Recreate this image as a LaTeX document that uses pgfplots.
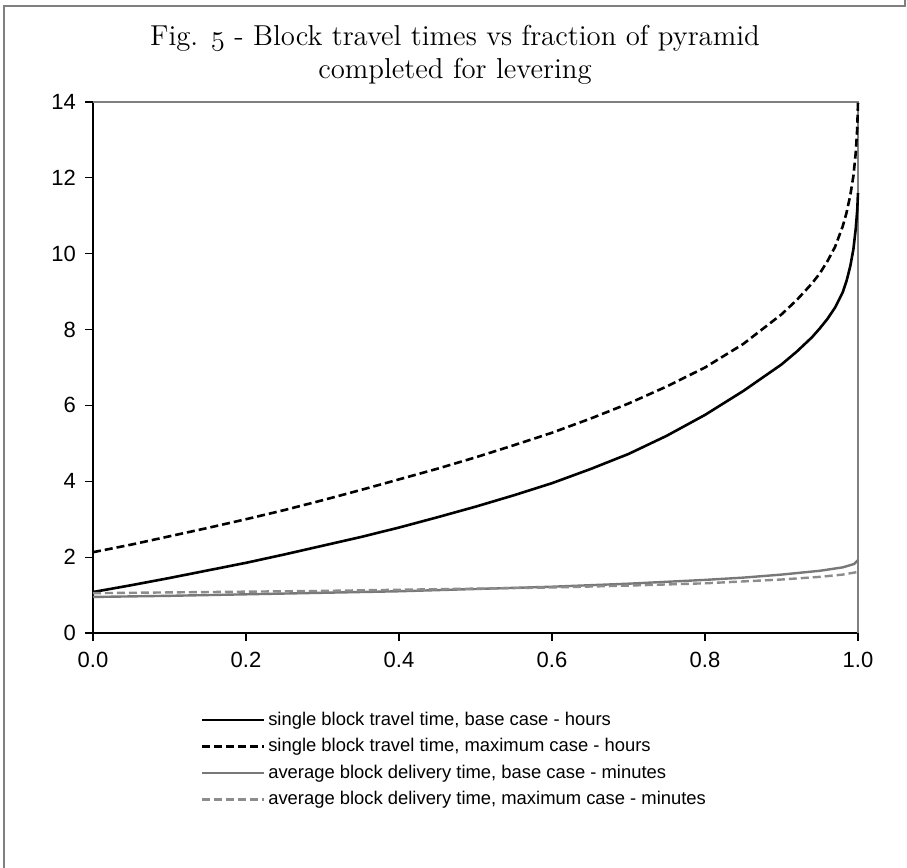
\documentclass[border=0pt]{standalone}
\usepackage{fontspec}
\setsansfont{Liberation Sans}
\usepackage{pgfplots}
\pgfplotsset{compat=1.18}
\definecolor{framegray}{gray}{0.5}
\definecolor{gsolid}{gray}{0.47}
\definecolor{gdash}{gray}{0.55}

\begin{document}
\begin{tikzpicture}
\useasboundingbox (-46.5pt,-117.5pt) rectangle (407pt,316.5pt);
% outer frame
\draw[framegray, line width=1pt] (-44.5pt,-117.5pt) -- (-44.5pt,313.5pt) -- (406pt,313.5pt) -- (406pt,316.5pt);
\node[align=center, font=\fontsize{14.4}{16.5}\selectfont] at (181pt,289pt)
  {Fig. {\usefont{OML}{cmm}{m}{it}5} - Block travel times vs fraction of pyramid\\completed for levering};
\begin{axis}[
  at={(0,0)}, anchor=south west,
  width=382.5pt, height=265.5pt, scale only axis,
  xmin=0, xmax=1, ymin=0, ymax=14,
  clip=false,
  axis x line*=bottom, axis y line*=left,
  axis line style={-, black, line width=0.8pt},
  tick style={black, line width=0.6pt},
  tick align=outside,
  major tick length=4pt,
  xtick={0,0.2,0.4,0.6,0.8,1},
  ytick={0,2,4,6,8,10,12,14},
  tick label style={font=\sffamily\fontsize{11}{12}\selectfont},
  x tick label style={/pgf/number format/.cd, fixed, fixed zerofill, precision=1, assume math mode=true},
  y tick label style={/pgf/number format/assume math mode=true},
  xticklabel shift=2pt,
  yticklabel shift=1pt,
  legend cell align=left,
  legend image code/.code={\draw[#1] (0pt,0pt) -- (31pt,0pt);},
  legend style={draw=none, fill=none, at={(0.14,-0.14)}, anchor=north west,
    font=\sffamily\fontsize{9.2}{10}\selectfont, row sep=1.1pt, inner sep=0pt,
    nodes={inner xsep=1.6pt}},
]
\draw[framegray, line width=1pt] (rel axis cs:0,1) -- (rel axis cs:1,1) -- (rel axis cs:1,0);

\addplot[black, line width=1.3pt] coordinates {
  (0,1.08) (0.05,1.26) (0.1,1.45) (0.15,1.65) (0.2,1.85) (0.25,2.07)
  (0.3,2.30) (0.35,2.53) (0.4,2.78) (0.45,3.05) (0.5,3.33) (0.55,3.63)
  (0.6,3.95) (0.65,4.32) (0.7,4.72) (0.75,5.20) (0.8,5.75) (0.85,6.38)
  (0.9,7.08) (0.92,7.42) (0.94,7.80) (0.95,8.03) (0.96,8.28) (0.97,8.58)
  (0.98,8.98) (0.985,9.28) (0.99,9.68) (0.994,10.12) (0.997,10.65)
  (0.999,11.15) (1.0,11.60)
};
\addlegendentry{single block travel time, base case - hours}

\addplot[black, line width=1.3pt, dash pattern=on 4pt off 2pt] coordinates {
  (0,2.13) (0.05,2.33) (0.1,2.55) (0.15,2.77) (0.2,3.00) (0.25,3.24)
  (0.3,3.50) (0.35,3.77) (0.4,4.05) (0.45,4.33) (0.5,4.63) (0.55,4.95)
  (0.6,5.28) (0.65,5.65) (0.7,6.05) (0.75,6.50) (0.8,7.00) (0.85,7.62)
  (0.9,8.40) (0.92,8.78) (0.94,9.22) (0.95,9.48) (0.96,9.80) (0.97,10.18)
  (0.98,10.72) (0.985,11.08) (0.99,11.55) (0.994,12.05) (0.997,12.65)
  (0.999,13.30) (1.0,14.0)
};
\addlegendentry{single block travel time, maximum case - hours}

\addplot[gsolid, line width=1.2pt] coordinates {
  (0,0.95) (0.1,0.98) (0.2,1.02) (0.3,1.06) (0.4,1.10) (0.5,1.16)
  (0.6,1.22) (0.7,1.30) (0.8,1.40) (0.85,1.46) (0.9,1.54) (0.95,1.64)
  (0.98,1.73) (0.995,1.82) (1.0,1.92)
};
\addlegendentry{average block delivery time, base case - minutes}

\addplot[gdash, line width=1.2pt, dash pattern=on 4pt off 2pt] coordinates {
  (0,1.05) (0.1,1.07) (0.2,1.09) (0.3,1.11) (0.4,1.14) (0.5,1.17)
  (0.6,1.20) (0.7,1.25) (0.8,1.31) (0.85,1.36) (0.9,1.41) (0.95,1.48)
  (0.98,1.54) (1.0,1.61)
};
\addlegendentry{average block delivery time, maximum case - minutes}
\end{axis}
\end{tikzpicture}
\end{document}
